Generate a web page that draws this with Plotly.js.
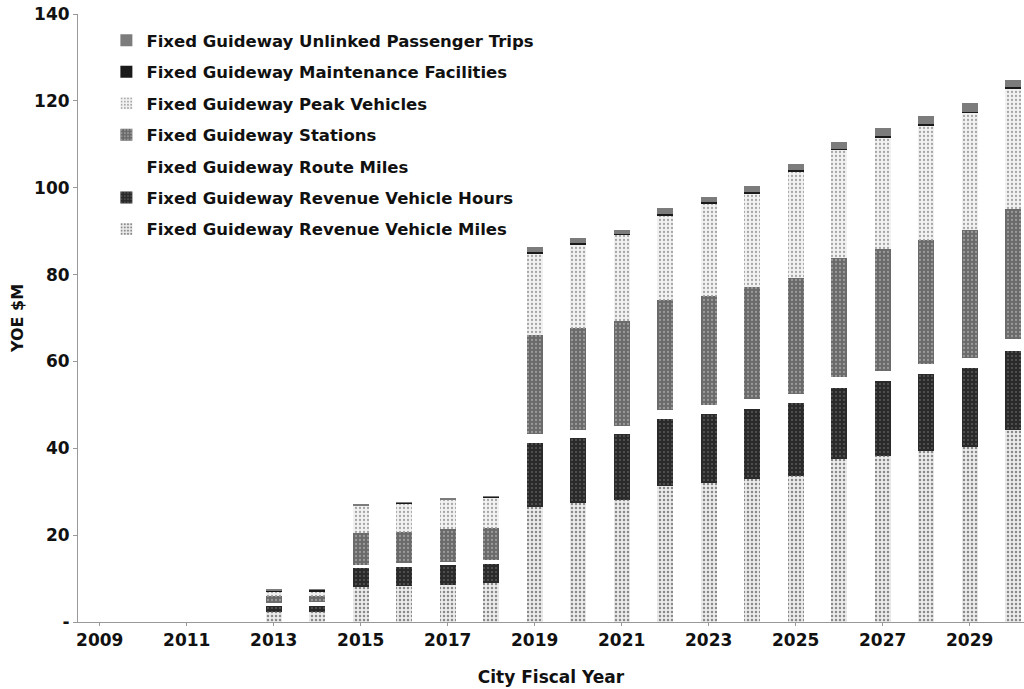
<!DOCTYPE html>
<html>
<head>
<meta charset="utf-8">
<script src="https://cdn.plot.ly/plotly-3.0.1.min.js"></script>
<style>html,body{margin:0;padding:0;background:#fff;}#chart{width:1024px;height:689px;}</style>
</head>
<body>
<div id="chart"></div>
<script>
var years = [2009,2010,2011,2012,2013,2014,2015,2016,2017,2018,2019,2020,2021,2022,2023,2024,2025,2026,2027,2028,2029,2030];
var revenueVehicleMiles = [0,0,0,0,2.2,2.2,8.1,8.3,8.5,9.0,26.5,27.4,28.1,31.3,32.0,32.9,33.6,37.5,38.3,39.4,40.3,44.3];
var revenueVehicleHours = [0,0,0,0,1.4,1.5,4.4,4.4,4.6,4.4,14.7,15.0,15.2,15.4,15.9,16.1,16.8,16.4,17.3,17.6,18.1,18.2];
var routeMiles = [0,0,0,0,0.8,0.8,0.7,0.9,0.7,0.9,2.1,1.8,1.8,2.1,2.1,2.3,2.1,2.5,2.3,2.3,2.4,2.6];
var stations = [0,0,0,0,1.6,1.6,7.2,7.1,7.6,7.3,22.8,23.5,24.2,25.3,25.1,25.8,26.7,27.5,28.0,28.7,29.4,30.1];
var peakVehicles = [0,0,0,0,0.9,0.9,6.2,6.5,6.6,6.9,18.6,19.1,19.8,19.4,21.1,21.4,24.4,24.7,25.5,26.3,26.9,27.6];
var maintenanceFacilities = [0,0,0,0,0.3,0.3,0.2,0.2,0.2,0.2,0.4,0.4,0.3,0.4,0.4,0.4,0.4,0.4,0.4,0.4,0.4,0.4];
var unlinkedPassengerTrips = [0,0,0,0,0.3,0.3,0.3,0.3,0.3,0.3,1.2,1.2,0.9,1.4,1.3,1.5,1.5,1.5,1.9,1.8,1.9,1.6];

var seriesNames = [
  "Fixed Guideway Revenue Vehicle Miles",
  "Fixed Guideway Revenue Vehicle Hours",
  "Fixed Guideway Route Miles",
  "Fixed Guideway Stations",
  "Fixed Guideway Peak Vehicles",
  "Fixed Guideway Maintenance Facilities",
  "Fixed Guideway Unlinked Passenger Trips"
];
var seriesValues = [revenueVehicleMiles, revenueVehicleHours, routeMiles, stations, peakVehicles, maintenanceFacilities, unlinkedPassengerTrips];
var yTickVals = [0,20,40,60,80,100,120,140];
var yTickText = ["-","20","40","60","80","100","120","140"];
var xTickVals = [2009,2011,2013,2015,2017,2019,2021,2023,2025,2027,2029];

var styles = [
  {color:"#ececec", pattern:{shape:".", fgcolor:"#8a8a8a", bgcolor:"#ececec", size:4, solidity:0.3}},
  {color:"#303030", pattern:{shape:".", fgcolor:"#5a5a5a", bgcolor:"#2a2a2a", size:4, solidity:0.2}},
  {color:"#ffffff"},
  {color:"#707070", pattern:{shape:".", fgcolor:"#9a9a9a", bgcolor:"#6a6a6a", size:4, solidity:0.25}},
  {color:"#f0f0f0", pattern:{shape:".", fgcolor:"#a5a5a5", bgcolor:"#f2f2f2", size:4, solidity:0.25}},
  {color:"#1a1a1a"},
  {color:"#7c7c7c"}
];

var traces = seriesValues.map(function(vals, i){
  var m = {color: styles[i].color, line:{width:0}};
  if (styles[i].pattern) { m.pattern = styles[i].pattern; }
  return {
    type:"bar", x: years, y: vals, name: seriesNames[i],
    width: 0.37, marker: m, legendgroup: "g"+i, legendrank: 100 - i,
    hovertemplate: "%{x}: %{y}<extra>"+seriesNames[i]+"</extra>"
  };
});

var fam = "DejaVu Sans, Verdana, sans-serif";
var tickF = {family:fam, size:17, color:"#111", weight:"bold"};
var titleF = {family:fam, size:16, color:"#111", weight:"bold"};

var layout = {
  width:1024, height:689,
  margin:{l:78, r:0, t:14, b:67},
  barmode:"stack",
  paper_bgcolor:"#fff", plot_bgcolor:"#fff",
  showlegend:true,
  legend:{x:0.030, y:0.985, xanchor:"left", yanchor:"top",
    traceorder:"grouped", tracegroupgap:7,
    font:{family:fam, size:16.5, color:"#111", weight:"bold"},
    bgcolor:"rgba(0,0,0,0)"},
  xaxis:{range:[2008.5, 2030.25], tickvals:xTickVals, ticktext:xTickVals.map(String),
    showgrid:false, zeroline:false, showline:true, linecolor:"#999", linewidth:1,
    ticks:"outside", ticklen:3, tickcolor:"#999",
    tickfont:tickF, title:{text:"City Fiscal Year", font:{family:fam, size:17, color:"#111", weight:"bold"}, standoff:21}},
  yaxis:{range:[0,140], tickvals:yTickVals, ticktext:yTickText,
    showgrid:false, zeroline:false, showline:true, linecolor:"#999", linewidth:1,
    ticks:"outside", ticklen:4, tickcolor:"#999",
    tickfont:tickF, title:{text:"YOE $M", font:titleF, standoff:6}}
};

Plotly.newPlot("chart", traces, layout, {displayModeBar:false, staticPlot:true});
</script>
</body>
</html>
